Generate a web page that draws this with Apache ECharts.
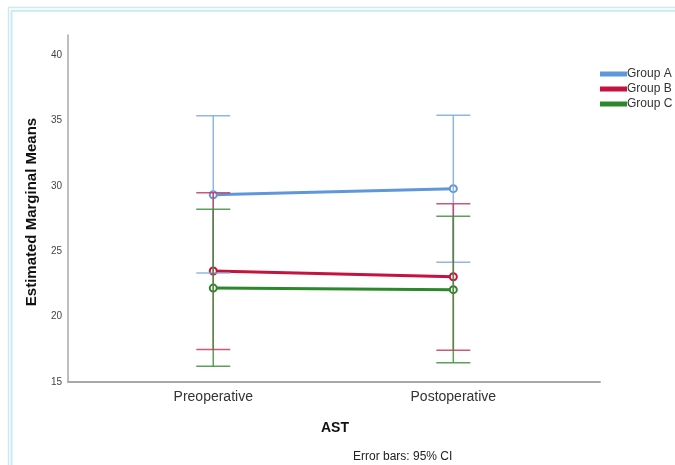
<!DOCTYPE html>
<html>
<head>
<meta charset="utf-8">
<script src="https://cdn.jsdelivr.net/npm/echarts@6/dist/echarts.min.js"></script>
<style>
html,body{margin:0;padding:0;background:#fff;}
#c{width:675px;height:465px;}
</style>
</head>
<body>
<div id="c"></div>
<script>
const categories = ['Preoperative', 'Postoperative'];
const groups = ['Group A', 'Group B', 'Group C'];
const meanA = [29.32, 29.78];
const meanB = [23.49, 23.05];
const meanC = [22.18, 22.06];
const lowA = [23.34, 24.15];
const highA = [35.35, 35.40];
const lowB = [17.48, 17.43];
const highB = [29.47, 28.63];
const lowC = [16.20, 16.48];
const highC = [28.21, 27.68];
const yTicks = [15, 20, 25, 30, 35, 40];

const lineColors = ['#5f97db', '#c6123e', '#2b882b'];
const barColors = ['#7fa9dd', '#c43a62', '#3f8f3f'];
const means = [meanA, meanB, meanC];
const lows = [lowA, lowB, lowC];
const highs = [highA, highB, highC];

const font = '"Liberation Sans", Arial, sans-serif';

const series = [];
groups.forEach((g, i) => {
  series.push({
    name: g,
    type: 'line',
    data: means[i].map((v, j) => [j, v]),
    lineStyle: {width: 3, color: lineColors[i]},
    itemStyle: {color: lineColors[i], borderColor: lineColors[i], borderWidth: 1.2},
    symbol: 'emptyCircle',
    symbolSize: 7,
    z: 2,
    animation: false
  });
});
groups.forEach((g, i) => {
  series.push({
    name: g + ' CI',
    type: 'custom',
    data: lows[i].map((v, j) => [j, v, highs[i][j]]),
    renderItem: function (params, api) {
      const x = api.value(0);
      const lo = api.coord([x, api.value(1)]);
      const hi = api.coord([x, api.value(2)]);
      const hw = 17;
      const st = {stroke: barColors[i], lineWidth: 1.5, opacity: 0.85};
      return {
        type: 'group',
        children: [
          {type: 'line', shape: {x1: lo[0], y1: lo[1], x2: hi[0], y2: hi[1]}, style: st},
          {type: 'line', shape: {x1: lo[0] - hw, y1: lo[1], x2: lo[0] + hw, y2: lo[1]}, style: st},
          {type: 'line', shape: {x1: hi[0] - hw, y1: hi[1], x2: hi[0] + hw, y2: hi[1]}, style: st}
        ]
      };
    },
    z: 3,
    animation: false
  });
});

const chart = echarts.init(document.getElementById('c'), null, {renderer: 'canvas'});
chart.setOption({
  animation: false,
  backgroundColor: '#ffffff',
  grid: {left: 68, right: 75, top: 35, bottom: 83, containLabel: false},
  legend: {
    data: groups,
    orient: 'vertical',
    left: 600,
    top: 67,
    padding: 0,
    icon: 'rect',
    itemWidth: 25,
    itemHeight: 3,
    itemGap: 1,
    textStyle: {fontFamily: font, fontSize: 12, color: '#333', lineHeight: 14, padding: [0, 0, 0, -4]}
  },
  xAxis: {
    type: 'value',
    min: -0.605,
    max: 1.611,
    splitLine: {show: false},
    axisTick: {show: false},
    axisLine: {show: true, onZero: false, lineStyle: {color: '#a9a9a9', width: 2}},
    axisLabel: {
      customValues: [0, 1],
      formatter: v => categories[Math.round(v)],
      fontFamily: font, fontSize: 14, color: '#333', margin: 8
    }
  },
  yAxis: {
    type: 'value',
    min: 15,
    max: 41.53,
    interval: 5,
    splitLine: {show: false},
    axisTick: {show: false},
    axisLine: {show: true, onZero: false, lineStyle: {color: '#a9a9a9', width: 1.5}},
    axisLabel: {
      customValues: yTicks,
      fontFamily: font, fontSize: 10, color: '#444', margin: 6
    }
  },
  graphic: [
    {type: 'line', shape: {x1: 8.5, y1: 7.5, x2: 8.5, y2: 465}, style: {stroke: '#c9ebf1', lineWidth: 1.5}, silent: true},
    {type: 'line', shape: {x1: 11.5, y1: 10.5, x2: 11.5, y2: 465}, style: {stroke: '#c9ebf1', lineWidth: 2}, silent: true},
    {type: 'line', shape: {x1: 8, y1: 7.5, x2: 675, y2: 7.5}, style: {stroke: '#c9ebf1', lineWidth: 1.5}, silent: true},
    {type: 'line', shape: {x1: 11, y1: 10.8, x2: 675, y2: 10.8}, style: {stroke: '#c9ebf1', lineWidth: 2}, silent: true},
    {type: 'text', x: 32, y: 212, rotation: Math.PI / 2, style: {text: 'Estimated Marginal Means', fontFamily: font, fontSize: 15, fontWeight: 'bold', fill: '#111', align: 'center', verticalAlign: 'middle'}},
    {type: 'text', x: 335, y: 428, style: {text: 'AST', fontFamily: font, fontSize: 14, fontWeight: 'bold', fill: '#111', align: 'center', verticalAlign: 'middle'}},
    {type: 'text', x: 353, y: 457, style: {text: 'Error bars: 95% CI', fontFamily: font, fontSize: 12, fill: '#222', align: 'left', verticalAlign: 'middle'}}
  ],
  series: series
});
</script>
</body>
</html>
